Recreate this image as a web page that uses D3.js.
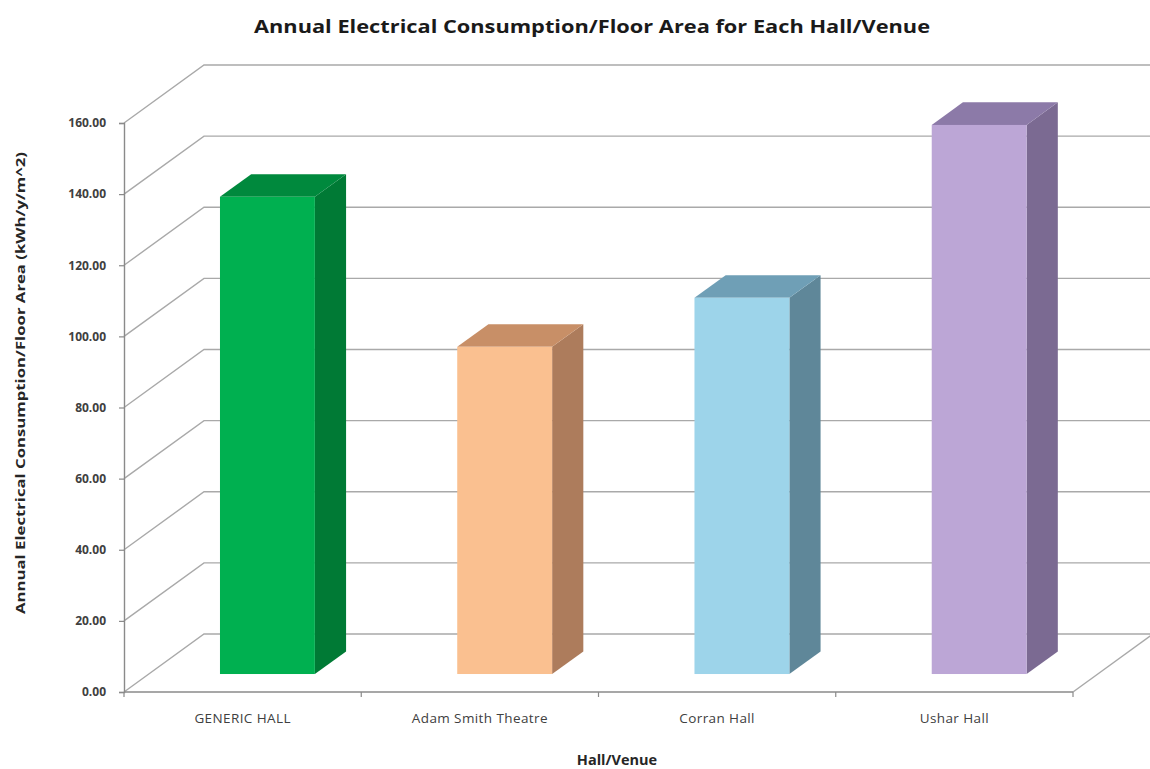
<!DOCTYPE html>
<html>
<head>
<meta charset="utf-8">
<script src="https://cdn.jsdelivr.net/npm/d3@7"></script>
<style>
  html, body { margin: 0; padding: 0; background: #fff; }
  svg { display: block; }
</style>
</head>
<body>
<svg id="chart" width="1150" height="769"></svg>
<script>
// Chart data
const categories = ["GENERIC HALL", "Adam Smith Theatre", "Corran Hall", "Ushar Hall"];
const values = [134.2, 92.0, 105.8, 154.4];
const yTicks = [0, 20, 40, 60, 80, 100, 120, 140, 160];
const frontColors = ["#00b050", "#fac090", "#9dd4ea", "#bca6d6"];
const sideColors  = ["#007a35", "#ad7c5c", "#5f8799", "#7b6a92"];
const topColors   = ["#00893d", "#c88f67", "#6f9fb6", "#8c7aa8"];

const svg = d3.select("#chart");
const W = 1150, H = 769;

// Plot frame (front plane) and depth vector of the 3D box
const plotLeft = 124, plotRight = 1073, plotBottom = 692, plotTop = 123;
const depth = { x: 80, y: -58 };
const barFront = 0.31, barBack = 0.70;   // bar position within the depth
const barWidthFrac = 0.40;

const x = d3.scaleBand().domain(categories).range([plotLeft, plotRight]).paddingInner(0).paddingOuter(0);
const y = d3.scaleLinear().domain([0, 160]).range([plotBottom, plotTop]);

const gridColor = "#a9a9a9";
const axisColor = "#8a8a8a";
const font = "'Open Sans', sans-serif";

// Back wall gridlines with diagonal side-wall segments
const grid = svg.append("g");
yTicks.forEach(v => {
  const yf = y(v);
  grid.append("path")
    .attr("d", `M${plotLeft},${yf} L${plotLeft + depth.x},${yf + depth.y} L${W},${yf + depth.y}`)
    .attr("fill", "none")
    .attr("stroke", gridColor)
    .attr("stroke-width", 1.4);
});

// Floor: right edge diagonal
svg.append("path")
  .attr("d", `M${plotRight},${plotBottom} L${plotRight + depth.x},${plotBottom + depth.y}`)
  .attr("fill", "none").attr("stroke", gridColor).attr("stroke-width", 1.4);

// Y axis (front left edge) with ticks and labels
const yAxis = d3.axisLeft(y).tickValues(yTicks).tickSize(5).tickFormat(d3.format(".2f"));
const yg = svg.append("g").attr("transform", `translate(${plotLeft},0)`).call(yAxis);
yg.select(".domain").attr("stroke", axisColor).attr("stroke-width", 1.4);
yg.selectAll(".tick line").attr("stroke", axisColor).attr("stroke-width", 1.2);
yg.selectAll(".tick text")
  .attr("x", -18)
  .attr("fill", "#404040")
  .attr("font-family", font)
  .attr("font-weight", "bold")
  .attr("font-size", "12px");

// X axis (front floor edge) with ticks at category boundaries
const xg = svg.append("g");
xg.append("line")
  .attr("x1", plotLeft).attr("x2", plotRight).attr("y1", plotBottom).attr("y2", plotBottom)
  .attr("stroke", axisColor).attr("stroke-width", 1.4);
const boundaries = categories.map(c => x(c)).concat([plotRight]);
xg.selectAll("line.tick").data(boundaries).enter().append("line")
  .attr("class", "tick")
  .attr("x1", d => d).attr("x2", d => d)
  .attr("y1", plotBottom).attr("y2", plotBottom + 5)
  .attr("stroke", axisColor).attr("stroke-width", 1.2);
xg.selectAll("text").data(categories).enter().append("text")
  .attr("x", d => x(d) + x.bandwidth() / 2)
  .attr("y", 723)
  .attr("text-anchor", "middle")
  .attr("fill", "#404040")
  .attr("font-family", font)
  .attr("font-size", "13.5px")
  .attr("letter-spacing", "0.4px")
  .text(d => d);

// 3D columns: front face, right side, top
const bars = svg.append("g");
categories.forEach((c, i) => {
  const bw = x.bandwidth() * barWidthFrac;
  const cx = x(c) + x.bandwidth() / 2;
  const ox = depth.x * barFront, oy = depth.y * barFront;
  const dx = depth.x * (barBack - barFront), dy = depth.y * (barBack - barFront);
  const xl = cx - bw / 2 + ox, xr = cx + bw / 2 + ox;
  const yb = y(0) + oy, yt = y(values[i]) + oy;

  bars.append("polygon")
    .attr("points", [[xr, yt], [xr + dx, yt + dy], [xr + dx, yb + dy], [xr, yb]].map(p => p.join(",")).join(" "))
    .attr("fill", sideColors[i]);
  bars.append("polygon")
    .attr("points", [[xl, yt], [xr, yt], [xr + dx, yt + dy], [xl + dx, yt + dy]].map(p => p.join(",")).join(" "))
    .attr("fill", topColors[i]);
  bars.append("rect")
    .attr("x", xl).attr("y", yt)
    .attr("width", xr - xl).attr("height", yb - yt)
    .attr("fill", frontColors[i]);
});

// Titles
svg.append("text")
  .attr("x", 592).attr("y", 33)
  .attr("text-anchor", "middle")
  .attr("font-family", font)
  .attr("font-weight", "bold")
  .attr("font-size", "17px")
  .attr("fill", "#1a1a1a")
  .attr("textLength", 676)
  .attr("lengthAdjust", "spacingAndGlyphs")
  .text("Annual Electrical Consumption/Floor  Area for Each Hall/Venue");

svg.append("text")
  .attr("x", 617).attr("y", 765)
  .attr("text-anchor", "middle")
  .attr("font-family", font)
  .attr("font-weight", "bold")
  .attr("font-size", "14.5px")
  .attr("fill", "#262626")
  .text("Hall/Venue");

svg.append("text")
  .attr("transform", "translate(25,383) rotate(-90)")
  .attr("text-anchor", "middle")
  .attr("font-family", font)
  .attr("font-weight", "bold")
  .attr("font-size", "13px")
  .attr("fill", "#262626")
  .attr("textLength", 462)
  .attr("lengthAdjust", "spacingAndGlyphs")
  .text("Annual Electrical Consumption/Floor Area (kWh/y/m^2)");
</script>
</body>
</html>
